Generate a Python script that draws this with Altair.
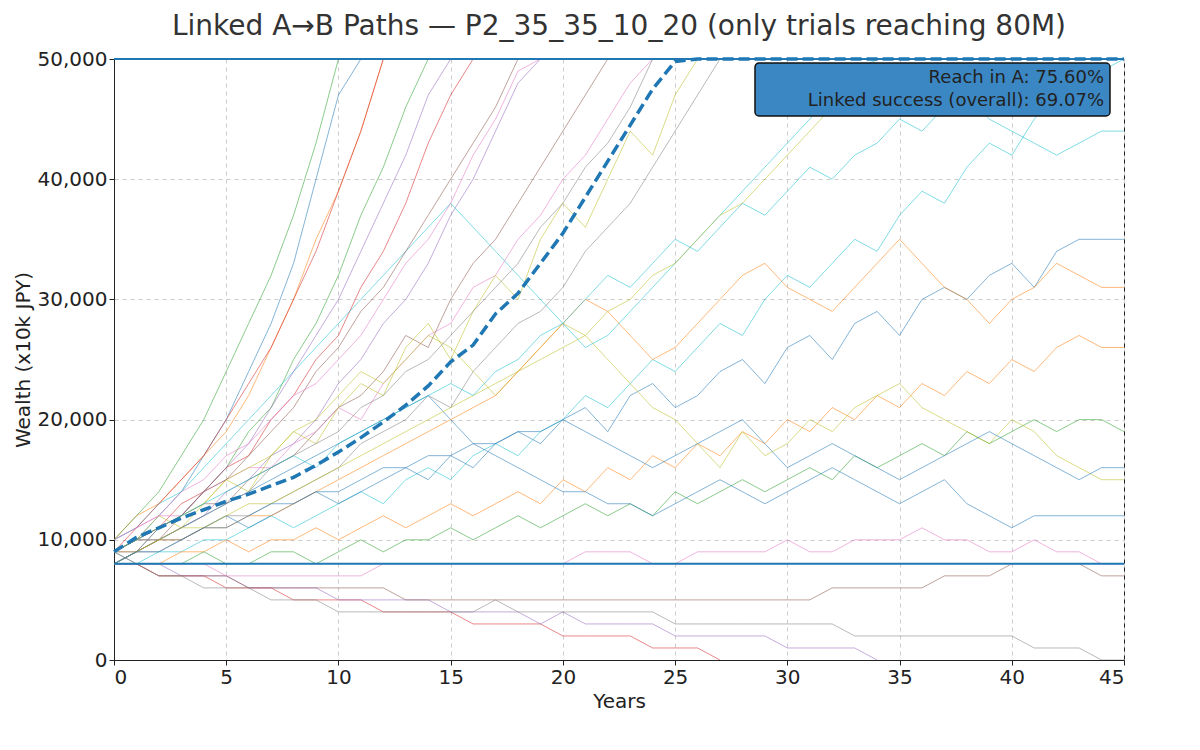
import altair as alt
import pandas as pd

# simulated wealth paths, in thousands of 10k JPY
paths = [
    [9, 10, 12, 14, 17, 20, 24, 28, 33, 40, 47, 50],
    [10, 12, 13, 15, 17, 19, 22, 26, 30, 35, 39, 44, 50],
    [8, 9, 11, 12, 14, 16, 19, 21, 25, 28, 32, 37, 41, 46, 50],
    [9, 10, 11, 13, 14, 16, 17, 20, 22, 25, 27, 31, 34, 38, 43, 47, 50],
    [8, 9, 10, 11, 12, 14, 15, 17, 18, 20, 23, 25, 28, 30, 33, 37, 40, 44, 48, 50],
    [9, 10, 10, 12, 13, 13, 15, 16, 17, 19, 21, 22, 24, 27, 26, 30, 33, 35, 38, 41, 44, 47, 50],
    [10, 11, 12, 12, 14, 15, 16, 16, 18, 19, 21, 20, 23, 25, 27, 28, 31, 32, 35, 37, 40, 42, 45, 48, 50],
    [8, 9, 9, 10, 11, 12, 12, 13, 14, 15, 16, 18, 19, 20, 22, 21, 24, 26, 28, 29, 31, 34, 36, 38, 41, 44, 47, 50],
    [9, 10, 12, 11, 13, 15, 14, 17, 19, 18, 21, 23, 22, 26, 28, 25, 29, 32, 30, 35, 38, 36, 40, 44, 42, 47, 50],
    [8, 8, 9, 9, 10, 10, 11, 12, 11, 12, 13, 14, 13, 15, 16, 15, 17, 18, 17, 19, 20, 22, 21, 23, 25, 24, 26, 28, 27, 30, 32, 31, 33, 35, 34, 37, 39, 38, 41, 43, 42, 45, 47, 46, 49, 50],
    [9, 9, 10, 10, 11, 12, 11, 12, 13, 14, 13, 14, 15, 16, 15, 17, 16, 18, 19, 18, 20, 21, 19, 22, 23, 21, 22, 24, 25, 23, 26, 27, 25, 28, 29, 27, 30, 31, 30, 32, 33, 31, 34, 35, 35, 35],
    [8, 8, 8, 9, 9, 10, 9, 10, 10, 11, 10, 11, 12, 11, 12, 13, 12, 13, 14, 13, 15, 14, 16, 15, 17, 16, 18, 17, 19, 18, 20, 19, 21, 20, 22, 21, 23, 22, 24, 23, 25, 24, 26, 27, 26, 26],
    [9, 8, 8, 8, 9, 8, 8, 9, 9, 8, 9, 10, 9, 10, 10, 11, 10, 11, 12, 11, 12, 13, 12, 13, 12, 14, 13, 14, 15, 14, 15, 16, 15, 17, 16, 17, 18, 17, 19, 18, 19, 20, 19, 20, 20, 19],
    [8, 8, 7, 7, 7, 6, 6, 6, 5, 5, 5, 5, 4, 4, 4, 4, 3, 3, 3, 3, 2, 2, 2, 2, 1, 1, 1, 0],
    [9, 8, 8, 7, 7, 7, 6, 6, 6, 6, 5, 5, 5, 5, 5, 4, 4, 4, 4, 3, 4, 3, 3, 3, 3, 2, 2, 2, 2, 2, 1, 1, 1, 1, 0],
    [8, 8, 7, 7, 7, 7, 6, 6, 6, 6, 6, 6, 6, 5, 5, 5, 5, 5, 5, 5, 5, 5, 5, 5, 5, 5, 5, 5, 5, 5, 5, 5, 6, 6, 6, 6, 6, 7, 7, 7, 8, 8, 8, 8, 7, 7],
    [8, 8, 8, 8, 8, 7, 7, 7, 7, 7, 7, 7, 8, 8, 8, 8, 8, 8, 8, 8, 8, 9, 9, 9, 8, 8, 9, 9, 9, 9, 10, 9, 9, 10, 10, 10, 11, 10, 10, 9, 9, 10, 9, 9, 8, 8],
    [8, 8, 7, 7, 6, 6, 6, 5, 5, 5, 4, 4, 4, 4, 4, 4, 4, 5, 4, 4, 4, 4, 4, 4, 4, 3, 3, 3, 3, 3, 3, 3, 3, 2, 2, 2, 2, 2, 2, 2, 2, 1, 1, 1, 0, 0],
    [9, 10, 11, 12, 13, 15, 16, 17, 19, 20, 22, 24, 23, 25, 27, 26, 24, 22, 24, 26, 28, 27, 25, 23, 21, 20, 18, 16, 19, 17, 18, 20, 19, 21, 22, 23, 21, 20, 19, 18, 20, 19, 17, 16, 15, 15],
    [10, 11, 13, 14, 16, 18, 20, 22, 24, 26, 28, 30, 32, 34, 36, 38, 36, 34, 32, 30, 28, 26, 27, 29, 31, 33, 35, 37, 39, 41, 43, 45, 47, 49, 50],
    [8, 9, 10, 11, 12, 13, 14, 15, 16, 17, 18, 19, 20, 21, 22, 20, 18, 17, 16, 15, 14, 14, 13, 13, 12, 13, 14, 15, 14, 13, 14, 15, 16, 15, 14, 13, 14, 15, 13, 12, 11, 12, 12, 12, 12, 12],
    [9, 9, 10, 10, 11, 11, 12, 12, 13, 14, 15, 16, 17, 18, 19, 20, 21, 22, 24, 26, 28, 30, 29, 27, 25, 26, 28, 30, 32, 33, 31, 30, 29, 31, 33, 35, 33, 31, 30, 28, 30, 31, 33, 32, 31, 31],
    [10, 12, 14, 17, 20, 24, 28, 32, 37, 43, 50],
    [9, 11, 13, 15, 17, 20, 23, 26, 30, 34, 39, 44, 50],
    [8, 9, 11, 12, 14, 16, 18, 21, 24, 27, 30, 34, 38, 42, 47, 50],
    [9, 10, 11, 12, 14, 15, 17, 19, 21, 24, 26, 29, 31, 34, 37, 40, 43, 46, 50],
    [10, 11, 12, 14, 15, 17, 18, 20, 22, 23, 25, 27, 30, 33, 35, 38, 42, 45, 49, 50],
    [9, 10, 10, 11, 12, 13, 14, 16, 17, 18, 19, 21, 22, 24, 25, 27, 29, 31, 33, 36, 38, 41, 43, 46, 50],
    [8, 9, 10, 11, 11, 12, 13, 13, 14, 15, 16, 17, 18, 19, 20, 21, 22, 23, 24, 25, 26, 27, 29, 30, 32, 33, 35, 37, 38, 40, 42, 44, 46, 48, 50],
    [9, 10, 11, 12, 13, 14, 15, 16, 17, 16, 18, 19, 20, 21, 22, 23, 22, 24, 25, 27, 28, 30, 32, 31, 33, 35, 34, 36, 38, 37, 39, 41, 40, 42, 43, 45, 44, 46, 47, 45, 44, 43, 42, 43, 44, 44],
    [8, 9, 9, 10, 11, 11, 12, 13, 13, 14, 14, 15, 16, 16, 17, 17, 18, 18, 19, 19, 20, 19, 18, 17, 16, 17, 18, 19, 20, 18, 16, 17, 18, 17, 16, 15, 16, 17, 18, 19, 18, 17, 16, 15, 16, 16],
]

median = [9000, 10200, 11000, 11800, 12500, 13200, 13800, 14500, 15200, 16200,
          17300, 18500, 19800, 21200, 22800, 24800, 26200, 28800, 30500, 33000,
          35500, 38500, 41500, 44500, 47500, 49800, 50000, 50000, 50000, 50000,
          50000, 50000, 50000, 50000, 50000, 50000, 50000, 50000, 50000, 50000,
          50000, 50000, 50000, 50000, 50000, 50000]

rows = []
for i, p in enumerate(paths):
    for year, v in enumerate(p):
        rows.append({'path': i, 'year': year, 'wealth': v * 1000})
df = pd.DataFrame(rows)
med_df = pd.DataFrame({'year': list(range(len(median))), 'wealth': median})
ref_df = pd.DataFrame({'wealth': [8000, 50000]})

x_scale = alt.Scale(domain=[0, 45], nice=False)
y_scale = alt.Scale(domain=[0, 50000], nice=False)

spaghetti = alt.Chart(df).mark_line(strokeWidth=1, opacity=0.55, clip=True).encode(
    x=alt.X('year:Q', title='Years', scale=x_scale,
            axis=alt.Axis(values=list(range(0, 46, 5)))),
    y=alt.Y('wealth:Q', title='Wealth (x10k JPY)', scale=y_scale,
            axis=alt.Axis(values=list(range(0, 50001, 10000)), format=',.0f')),
    color=alt.Color('path:N', legend=None, scale=alt.Scale(scheme='category10')),
    detail='path:N'
)

refs = alt.Chart(ref_df).mark_rule(color='#1f77b4', strokeWidth=2).encode(y='wealth:Q')

med = alt.Chart(med_df).mark_line(color='#1f77b4', strokeWidth=3.5, strokeDash=[11, 5]).encode(
    x='year:Q', y='wealth:Q'
)

box = alt.Chart(ref_df.head(1)).mark_rect(
    fill='#3a87c4', stroke='#111', strokeWidth=1.5, cornerRadius=4
).encode(x=alt.value(641), x2=alt.value(996), y=alt.value(4), y2=alt.value(57))

stats = pd.DataFrame({'label': ['Reach in A: 75.60%', 'Linked success (overall): 69.07%'],
                      'ypos': [19, 42]})
box_text = alt.Chart(stats).mark_text(
    align='right', baseline='middle', fontSize=18, color='#222', font='DejaVu Sans'
).encode(x=alt.value(990), y=alt.Y('ypos:Q', scale=None), text='label:N')

chart = alt.layer(spaghetti, refs, med, box, box_text).properties(
    width=1010, height=601,
    title=alt.TitleParams('Linked A→B Paths — P2_35_35_10_20 (only trials reaching 80M)',
                          fontSize=28, fontWeight='normal', font='DejaVu Sans',
                          color='#333', offset=8)
).configure_axis(
    labelFont='DejaVu Sans', titleFont='DejaVu Sans', labelFontSize=20,
    titleFontSize=20, titleFontWeight='normal', labelColor='#222', titleColor='#222',
    gridDash=[4, 4], gridColor='#ccc', domainColor='#222', tickColor='#222'
).configure_view(stroke='#222')

chart.save("out.html", embed_options={"renderer": "svg", "actions": False})
